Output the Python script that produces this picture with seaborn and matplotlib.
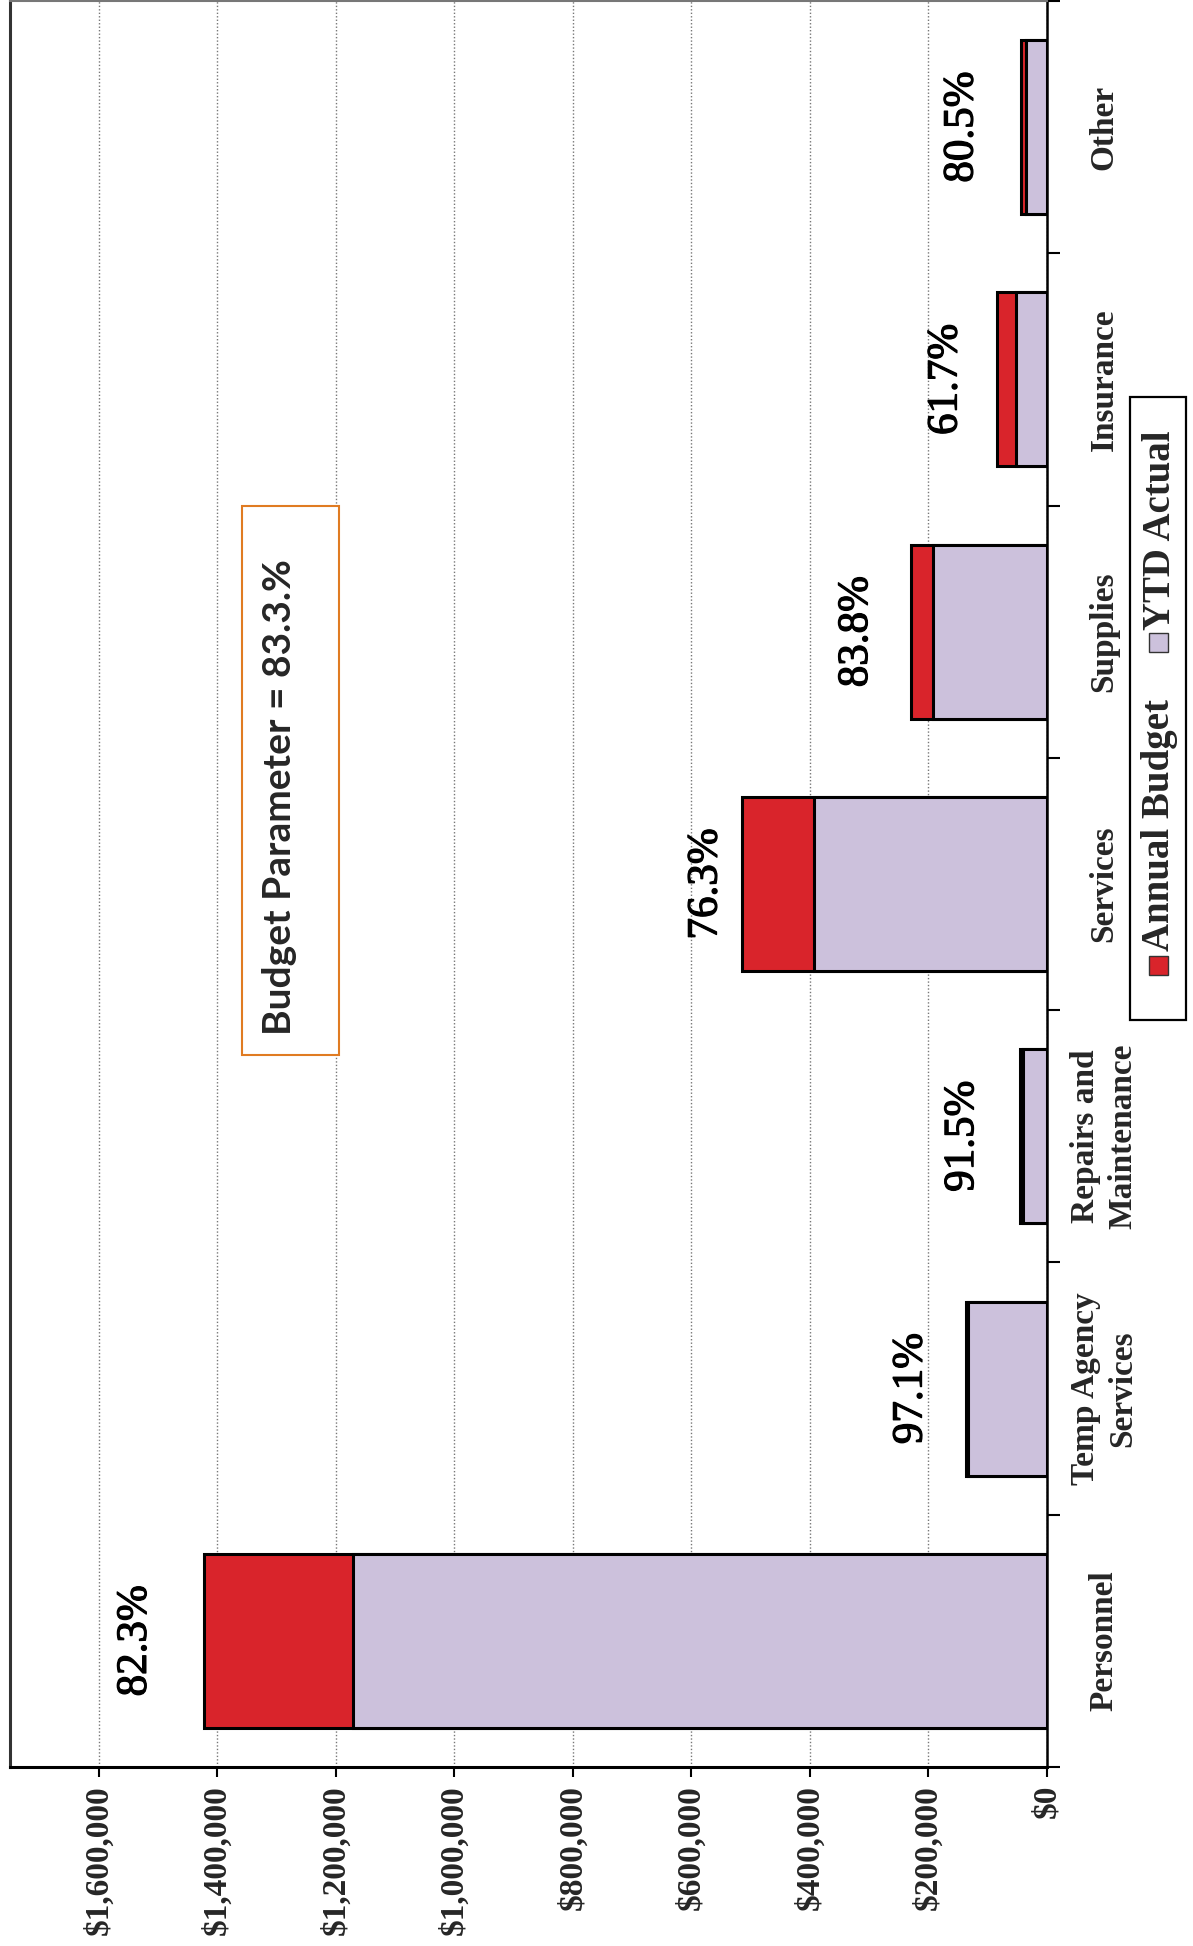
import matplotlib
matplotlib.use("Agg")
import matplotlib.pyplot as plt
import matplotlib.patches as mpatches
import matplotlib.patheffects as pe
from matplotlib.ticker import FuncFormatter, FixedLocator
import seaborn as sns
import pandas as pd

# ---------------- data ----------------
categories = ["Personnel", "Temp Agency\nServices", "Repairs and\nMaintenance",
              "Services", "Supplies", "Insurance", "Other"]
annual_budget = [1423000, 137000, 45000, 515000, 229000, 84000, 44000]
ytd_actual = [1171000, 133000, 41180, 393000, 192000, 51800, 35400]
value_ticks = [0, 200000, 400000, 600000, 800000, 1000000, 1200000, 1400000, 1600000]
legend_labels = ["Annual Budget", "YTD Actual"]
parameter_text = "Budget Parameter = 83.3.%"

# ---------------- style ----------------
RED = "#D9242B"
LAV = "#CCC1DC"
SERIF = ["Liberation Serif", "DejaVu Serif"]
label_gap = [115000, 92000, 97000, 60000, 92000, 86000, 99000]  # label offset from bar end

sns.set_theme(style="white")
plt.rcParams["font.family"] = SERIF

order = categories[::-1]  # Other at top, Personnel at bottom
df = pd.DataFrame({"cat": categories, "budget": annual_budget, "ytd": ytd_actual})

fig = plt.figure(figsize=(11.93, 19.46), dpi=100)
ax = fig.add_axes([10 / 1193, 1 - 1767 / 1946, 1037 / 1193, 1767 / 1946 - 0.0005])

sns.barplot(data=df, y="cat", x="budget", order=order, orient="h", color=RED,
            saturation=1, edgecolor="black", linewidth=2.2, width=0.69, ax=ax, zorder=2)
sns.barplot(data=df, y="cat", x="ytd", order=order, orient="h", color=LAV,
            saturation=1, edgecolor="black", linewidth=2.2, width=0.69, ax=ax, zorder=3)

ax.set_xlim(1750000, 0)
ax.set_ylim(6.5, -0.5)
ax.set_xlabel("")
ax.set_ylabel("")

# value axis (bottom)
ax.xaxis.set_major_locator(FixedLocator(value_ticks))
ax.xaxis.set_major_formatter(FuncFormatter(lambda v, p: f"${v:,.0f}"))
ax.tick_params(axis="x", which="major", direction="out", length=7, width=1.5,
               color="black", pad=6, labelsize=24, labelrotation=90, bottom=True)
for t in ax.get_xticklabels():
    t.set_fontweight("bold")

ax.grid(axis="x", which="major", linestyle=(0, (1, 1.5)), color="#777777", linewidth=1.0)
ax.grid(axis="y", visible=False)
ax.set_axisbelow(True)

# category axis (right)
ax.yaxis.tick_right()
ax.yaxis.set_minor_locator(FixedLocator([i + 0.5 for i in range(-1, 7)]))
ax.tick_params(axis="y", which="major", length=0, pad=41, labelsize=24, right=True, left=False)
ax.tick_params(axis="y", which="minor", direction="out", length=9, width=1.5,
               color="black", right=True, left=False)
for t in ax.get_yticklabels():
    t.set_rotation(90)
    t.set_ha("center")
    t.set_va("center")
    t.set_multialignment("center")
    t.set_fontweight("bold")
    t.set_linespacing(1.25)

for side, lw, col in [("left", 2.2, "#333333"), ("top", 1.5, "#777777"),
                      ("right", 1.8, "black"), ("bottom", 2.2, "black")]:
    ax.spines[side].set_visible(True)
    ax.spines[side].set_linewidth(lw)
    ax.spines[side].set_color(col)

# percentage labels
for i, cat in enumerate(order):
    k = categories.index(cat)
    b = annual_budget[k]
    a = ytd_actual[k]
    ax.text(b + label_gap[k], i, f"{a / b * 100:.1f}%", rotation=90, ha="center", va="center",
            fontsize=31, color="black", zorder=5,
            path_effects=[pe.withStroke(linewidth=0.9, foreground="black")])

# budget parameter box
ax.add_patch(mpatches.Rectangle((0.2237, 0.403), 0.0935, 0.3113, transform=ax.transAxes,
                                facecolor="white", edgecolor="#E07B22", linewidth=1.5, zorder=4))
ax.text(0.2600, 0.549, parameter_text, transform=ax.transAxes, rotation=90,
        ha="center", va="center", fontsize=28, fontweight="bold",
        family=["Lato", "DejaVu Sans"], zorder=5)

# legend (rotated, built manually)
def fx(px):
    return px / 1193


def fy(py):
    return 1 - py / 1946


fig.patches.append(mpatches.Rectangle((fx(1130), fy(1020)), 56 / 1193, 623 / 1946,
                                      transform=fig.transFigure, facecolor="white",
                                      edgecolor="black", linewidth=1.6))
sq = 19
for (cy, col) in [(966, RED), (642, LAV)]:
    fig.patches.append(mpatches.Rectangle((fx(1158 - sq / 2), fy(cy + sq / 2)), sq / 1193, sq / 1946,
                                          transform=fig.transFigure, facecolor=col,
                                          edgecolor="#333333", linewidth=1))
fig.text(fx(1160), fy(825), legend_labels[0], rotation=90, ha="center", va="center",
         fontsize=28, fontweight="bold")
fig.text(fx(1160), fy(530), legend_labels[1], rotation=90, ha="center", va="center",
         fontsize=28, fontweight="bold")

fig.savefig("out.png", dpi=100, facecolor="white")
